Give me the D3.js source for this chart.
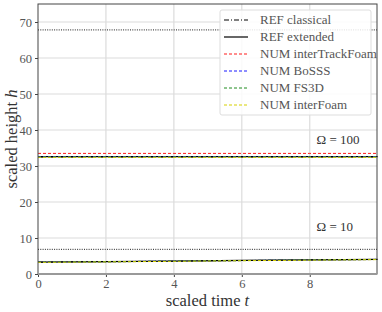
<!DOCTYPE html>
<html>
<head>
<meta charset="utf-8">
<script src="https://cdn.jsdelivr.net/npm/d3@7"></script>
<style>
  body { margin: 0; background: #fff; }
  text { font-family: "Liberation Serif", "DejaVu Serif", serif; }
</style>
</head>
<body>
<svg id="chart" width="382" height="312"></svg>
<script>
// data
const times = [0, 2, 4, 6, 8, 10];
const refClassical10 = [3.30, 3.42, 3.58, 3.74, 3.90, 4.05];
const refExtended10 = [3.32, 3.44, 3.60, 3.76, 3.92, 4.08];
const num10 = [3.28, 3.40, 3.57, 3.73, 3.89, 4.04];
const refClassical100 = [32.5, 32.5, 32.5, 32.5, 32.5, 32.5];
const refExtended100 = [32.6, 32.6, 32.6, 32.6, 32.6, 32.6];
const interTrack100 = [33.5, 33.5, 33.5, 33.5, 33.5, 33.5];
const bosss100 = [32.6, 32.6, 32.6, 32.6, 32.6, 32.6];
const fs3d100 = [32.5, 32.5, 32.5, 32.5, 32.5, 32.5];
const interFoam100 = [32.4, 32.4, 32.4, 32.4, 32.4, 32.4];
const dottedLevels = [67.8, 6.85];
const xTicks = [0, 2, 4, 6, 8];
const yTicks = [0, 10, 20, 30, 40, 50, 60, 70];

const legendItems = [
  { label: "REF classical", color: "#000", dash: "5,2,1,2", width: 1 },
  { label: "REF extended", color: "#000", dash: null, width: 1.2 },
  { label: "NUM interTrackFoam", color: "#ff1a1a", dash: "3,2", width: 1 },
  { label: "NUM BoSSS", color: "#1a1aff", dash: "3,2", width: 1 },
  { label: "NUM FS3D", color: "#1f8c1f", dash: "3,2", width: 1 },
  { label: "NUM interFoam", color: "#d6d000", dash: "3,2", width: 1 }
];

const svg = d3.select("#chart");
const margin = { top: 4, right: 5, bottom: 38, left: 38 };
const width = 382 - margin.left - margin.right;
const height = 312 - margin.top - margin.bottom;

const x = d3.scaleLinear().domain([0, 9.98]).range([0, width]);
const y = d3.scaleLinear().domain([0, 75]).range([height, 0]);

const g = svg.append("g").attr("transform", `translate(${margin.left},${margin.top})`);

// grid
g.selectAll(".gx").data(xTicks.slice(1)).enter().append("line")
  .attr("x1", d => x(d)).attr("x2", d => x(d))
  .attr("y1", 0).attr("y2", height)
  .attr("stroke", "#dcdcdc").attr("stroke-width", 1.2);
g.selectAll(".gy").data(yTicks.slice(1)).enter().append("line")
  .attr("x1", 0).attr("x2", width)
  .attr("y1", d => y(d)).attr("y2", d => y(d))
  .attr("stroke", "#dcdcdc").attr("stroke-width", 1.2);

const line = d3.line().x((d, i) => x(times[i])).y(d => y(d));

function drawSeries(vals, color, dash, w) {
  g.append("path").datum(vals)
    .attr("d", line)
    .attr("fill", "none")
    .attr("stroke", color)
    .attr("stroke-width", w)
    .attr("stroke-dasharray", dash);
}

// dotted reference levels
dottedLevels.forEach(v => {
  g.append("line")
    .attr("x1", x(0)).attr("x2", width)
    .attr("y1", y(v)).attr("y2", y(v))
    .attr("stroke", "#000").attr("stroke-width", 0.9)
    .attr("stroke-dasharray", "1,1.3");
});

// Omega = 100
drawSeries(refExtended100, "#000", null, 1.2);
drawSeries(refClassical100, "#000", "5,2,1,2", 1);
drawSeries(interTrack100, "#ff1a1a", "3,2", 1);
drawSeries(bosss100, "#1a1aff", "3,2", 1);
drawSeries(fs3d100, "#1f8c1f", "3,2", 1);
drawSeries(interFoam100, "#d6d000", "3,2", 1);

// Omega = 10
drawSeries(refExtended10, "#000", null, 1.2);
drawSeries(refClassical10, "#000", "5,2,1,2", 1);
drawSeries(num10, "#1a1aff", "3,2", 1);
drawSeries(num10, "#1f8c1f", "3,2", 1);
drawSeries(num10.map(v => v - 0.05), "#d6d000", "3,2", 1);

// axes
const xAxis = g.append("g").attr("transform", `translate(0,${height})`)
  .call(d3.axisBottom(x).tickValues(xTicks).tickSize(3).tickFormat(d3.format("d")));
const yAxis = g.append("g")
  .call(d3.axisLeft(y).tickValues(yTicks).tickSize(3).tickFormat(d3.format("d")));
[xAxis, yAxis].forEach(a => {
  a.select(".domain").remove();
  a.selectAll("line").attr("stroke", "#444");
  a.selectAll("text").attr("fill", "#555").style("font-size", "12.5px")
    .style("font-family", "'Liberation Serif', serif");
});
xAxis.selectAll("text").attr("y", 5).attr("dy", "0.7em");

// frame
g.append("rect").attr("width", width).attr("height", height)
  .attr("fill", "none").attr("stroke", "#444").attr("stroke-width", 1);
g.append("line").attr("x1", 0).attr("x2", width).attr("y1", height).attr("y2", height)
  .attr("stroke", "#999").attr("stroke-width", 2);

// labels
svg.append("text")
  .attr("x", margin.left + width / 2).attr("y", 306)
  .attr("text-anchor", "middle").attr("fill", "#333")
  .style("font-size", "16.5px")
  .html("scaled time <tspan font-style='italic'>t</tspan>");
svg.append("text")
  .attr("transform", `translate(17,${margin.top + height / 2}) rotate(-90)`)
  .attr("text-anchor", "middle").attr("fill", "#333")
  .style("font-size", "16.5px")
  .html("scaled height <tspan font-style='italic'>h</tspan>");

g.append("text").attr("x", x(8.2)).attr("y", y(36.1))
  .attr("fill", "#333").style("font-size", "13px").text("Ω = 100");
g.append("text").attr("x", x(8.2)).attr("y", y(12))
  .attr("fill", "#333").style("font-size", "13px").text("Ω = 10");

// legend
const lg = svg.append("g").attr("transform", "translate(220,10)");
lg.append("rect").attr("width", 151).attr("height", 105).attr("rx", 2)
  .attr("fill", "rgba(255,255,255,0.85)").attr("stroke", "#ddd");
legendItems.forEach((d, i) => {
  const yy = 10 + i * 17;
  lg.append("line").attr("x1", 4).attr("x2", 28).attr("y1", yy).attr("y2", yy)
    .attr("stroke", d.color).attr("stroke-width", d.width)
    .attr("stroke-dasharray", d.dash);
  lg.append("text").attr("x", 40).attr("y", yy + 4)
    .attr("fill", "#555").style("font-size", "13px").text(d.label);
});
</script>
</body>
</html>
